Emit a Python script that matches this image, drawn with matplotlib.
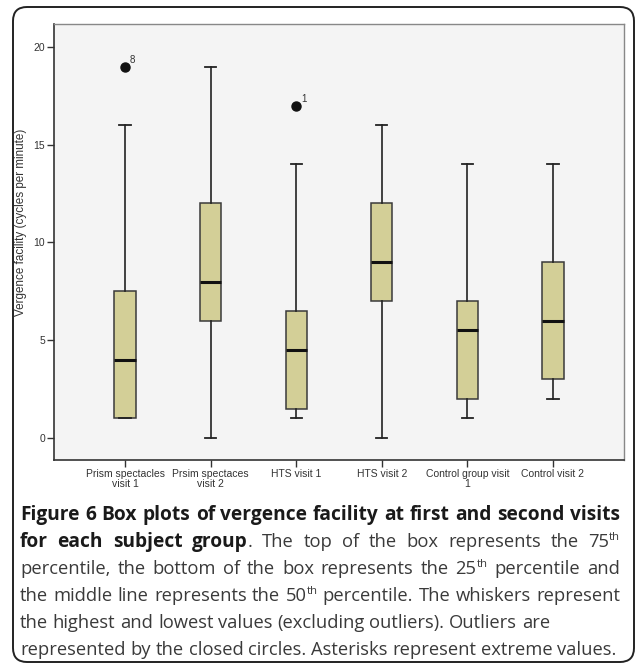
import matplotlib
matplotlib.use('Agg')
import matplotlib.pyplot as plt
from matplotlib.patches import FancyBboxPatch
from matplotlib.transforms import IdentityTransform

# ---------------- data ----------------
categories = ["Prism spectacles\nvisit 1", "Prsim spectaces\nvisit 2", "HTS visit 1",
              "HTS visit 2", "Control group visit\n1", "Control visit 2"]
q1 = [1, 6, 1.5, 7, 2, 3]
medians = [4, 8, 4.5, 9, 5.5, 6]
q3 = [7.5, 12, 6.5, 12, 7, 9]
whisker_low = [1, 0, 1, 0, 1, 2]
whisker_high = [16, 19, 14, 16, 14, 14]
outlier_values = [[19], [], [17], [], [], []]
outlier_ids = [["8"], [], ["1"], [], [], []]
yticks = [0, 5, 10, 15, 20]
ylabel = "Vergence facility (cycles per minute)"

W, H = 637, 666
fig = plt.figure(figsize=(W / 100, H / 100), dpi=100)
fig.patch.set_facecolor('white')

ax = fig.add_axes([54 / W, 1 - 460 / H, 570 / W, 436 / H])
ax.set_facecolor('#F4F4F4')

positions = list(range(1, len(categories) + 1))
stats = []
for i, c in enumerate(categories):
    stats.append(dict(label=c, q1=q1[i], med=medians[i], q3=q3[i],
                      whislo=whisker_low[i], whishi=whisker_high[i],
                      fliers=outlier_values[i]))

ax.bxp(stats, positions=positions, widths=0.25, capwidths=0.13, patch_artist=True,
       boxprops=dict(facecolor='#D3CF97', edgecolor='#3a3a3a', linewidth=1.1),
       medianprops=dict(color='#111111', linewidth=2.2),
       whiskerprops=dict(color='#222222', linewidth=1.2),
       capprops=dict(color='#222222', linewidth=1.3),
       flierprops=dict(marker='o', markerfacecolor='#111111', markeredgecolor='#111111',
                       markersize=6.5))

for i, (vals, ids) in enumerate(zip(outlier_values, outlier_ids)):
    for v, lab in zip(vals, ids):
        ax.annotate(lab, (positions[i], v), xytext=(3.5, 2.5), textcoords='offset points',
                    fontsize=7, color='#333333', family='Liberation Sans')

ax.set_xlim(0.17, 6.83)
ax.set_ylim(-1.13, 21.18)
ax.set_yticks(yticks)
ax.set_yticklabels([str(t) for t in yticks])
ax.set_xticks(positions)
ax.set_xticklabels(categories, linespacing=0.95)
for lab in ax.get_xticklabels() + ax.get_yticklabels():
    lab.set_family('Liberation Sans')
    lab.set_fontsize(7.5)
    lab.set_color('#333333')
ax.tick_params(direction='out', length=5, width=1, color='#333333', pad=1.5)

for s in ['left', 'bottom']:
    ax.spines[s].set_color('#333333')
    ax.spines[s].set_linewidth(1.2)
for s in ['top', 'right']:
    ax.spines[s].set_color('#888888')
    ax.spines[s].set_linewidth(1.0)

ax.set_ylabel(ylabel, fontsize=8.4, family='Liberation Sans', color='#333333')
ax.yaxis.set_label_coords(-0.047, 0.546)

# rounded frame
frame = FancyBboxPatch((13, H - 662), 621, 655,
                       boxstyle="round,pad=0,rounding_size=14",
                       transform=IdentityTransform(), facecolor='none',
                       edgecolor='#222222', linewidth=1.4)
fig.add_artist(frame)

# ---------------- caption ----------------
caption_lines = [
    [("Figure 6 Box plots of vergence facility at first and second visits", "b")],
    [("for each subject group", "b"), (". The top of the box represents the 75", "n"), ("th", "s")],
    [("percentile, the bottom of the box represents the 25", "n"), ("th", "s"), (" percentile and", "n")],
    [("the middle line represents the 50", "n"), ("th", "s"), (" percentile. The whiskers represent", "n")],
    [("the highest and lowest values (excluding outliers). Outliers are", "n")],
    [("represented by the closed circles. Asterisks represent extreme values.", "n")],
]
justify = [True, True, True, True, False, False]

cap_family = 'Open Sans'
renderer = fig.canvas.get_renderer()


def measure(s, size, weight):
    t = fig.text(0, 0, s, fontsize=size, fontweight=weight, family=cap_family,
                 transform=IdentityTransform())
    w = t.get_window_extent(renderer).width
    t.remove()
    return w


def tokenize(line):
    groups = [[]]
    for text, st in line:
        parts = text.split(' ')
        for i, p in enumerate(parts):
            if i > 0:
                groups.append([])
            if p:
                groups[-1].append((p, st))
    return [g for g in groups if g]


sizes = {'n': 14.0, 'b': 14.0}


def piece_props(st):
    if st == 'b':
        return sizes['b'], 'bold', 0
    if st == 's':
        return sizes['n'] * 0.62, 'normal', sizes['n'] * 0.40 * 100 / 72
    return sizes['n'], 'normal', 0


def line_layout(line):
    groups = tokenize(line)
    gw = []
    for g in groups:
        w = 0
        for p, st in g:
            sz, wt, _ = piece_props(st)
            w += measure(p, sz, wt)
        gw.append(w)
    space = measure("a a", sizes['n'], 'normal') - measure("aa", sizes['n'], 'normal')
    return groups, gw, space


# fit normal size on the last line, bold size on the first line
g, gw, sp = line_layout(caption_lines[5])
sizes['n'] = sizes['n'] * 597.0 / (sum(gw) + sp * (len(gw) - 1))
g, gw, sp = line_layout(caption_lines[0])
sizes['b'] = sizes['b'] * 592.0 / (sum(gw) + sp * (len(gw) - 1))

x0, x1 = 20, 620
baselines = [520, 547, 574, 601, 628, 655]
for line, just, yb in zip(caption_lines, justify, baselines):
    groups, gw, space = line_layout(line)
    gap = space
    if just and len(groups) > 1:
        gap = (x1 - x0 - sum(gw)) / (len(groups) - 1)
    x = x0
    for g, w in zip(groups, gw):
        xx = x
        for p, st in g:
            sz, wt, rise = piece_props(st)
            col = '#1a1a1a' if st == 'b' else '#3a3a3a'
            fig.text(xx, H - yb + rise, p, fontsize=sz, fontweight=wt, family=cap_family,
                     color=col, va='baseline', ha='left', transform=IdentityTransform())
            xx += measure(p, sz, wt)
        x += w + gap

fig.savefig('out.png', dpi=100)
